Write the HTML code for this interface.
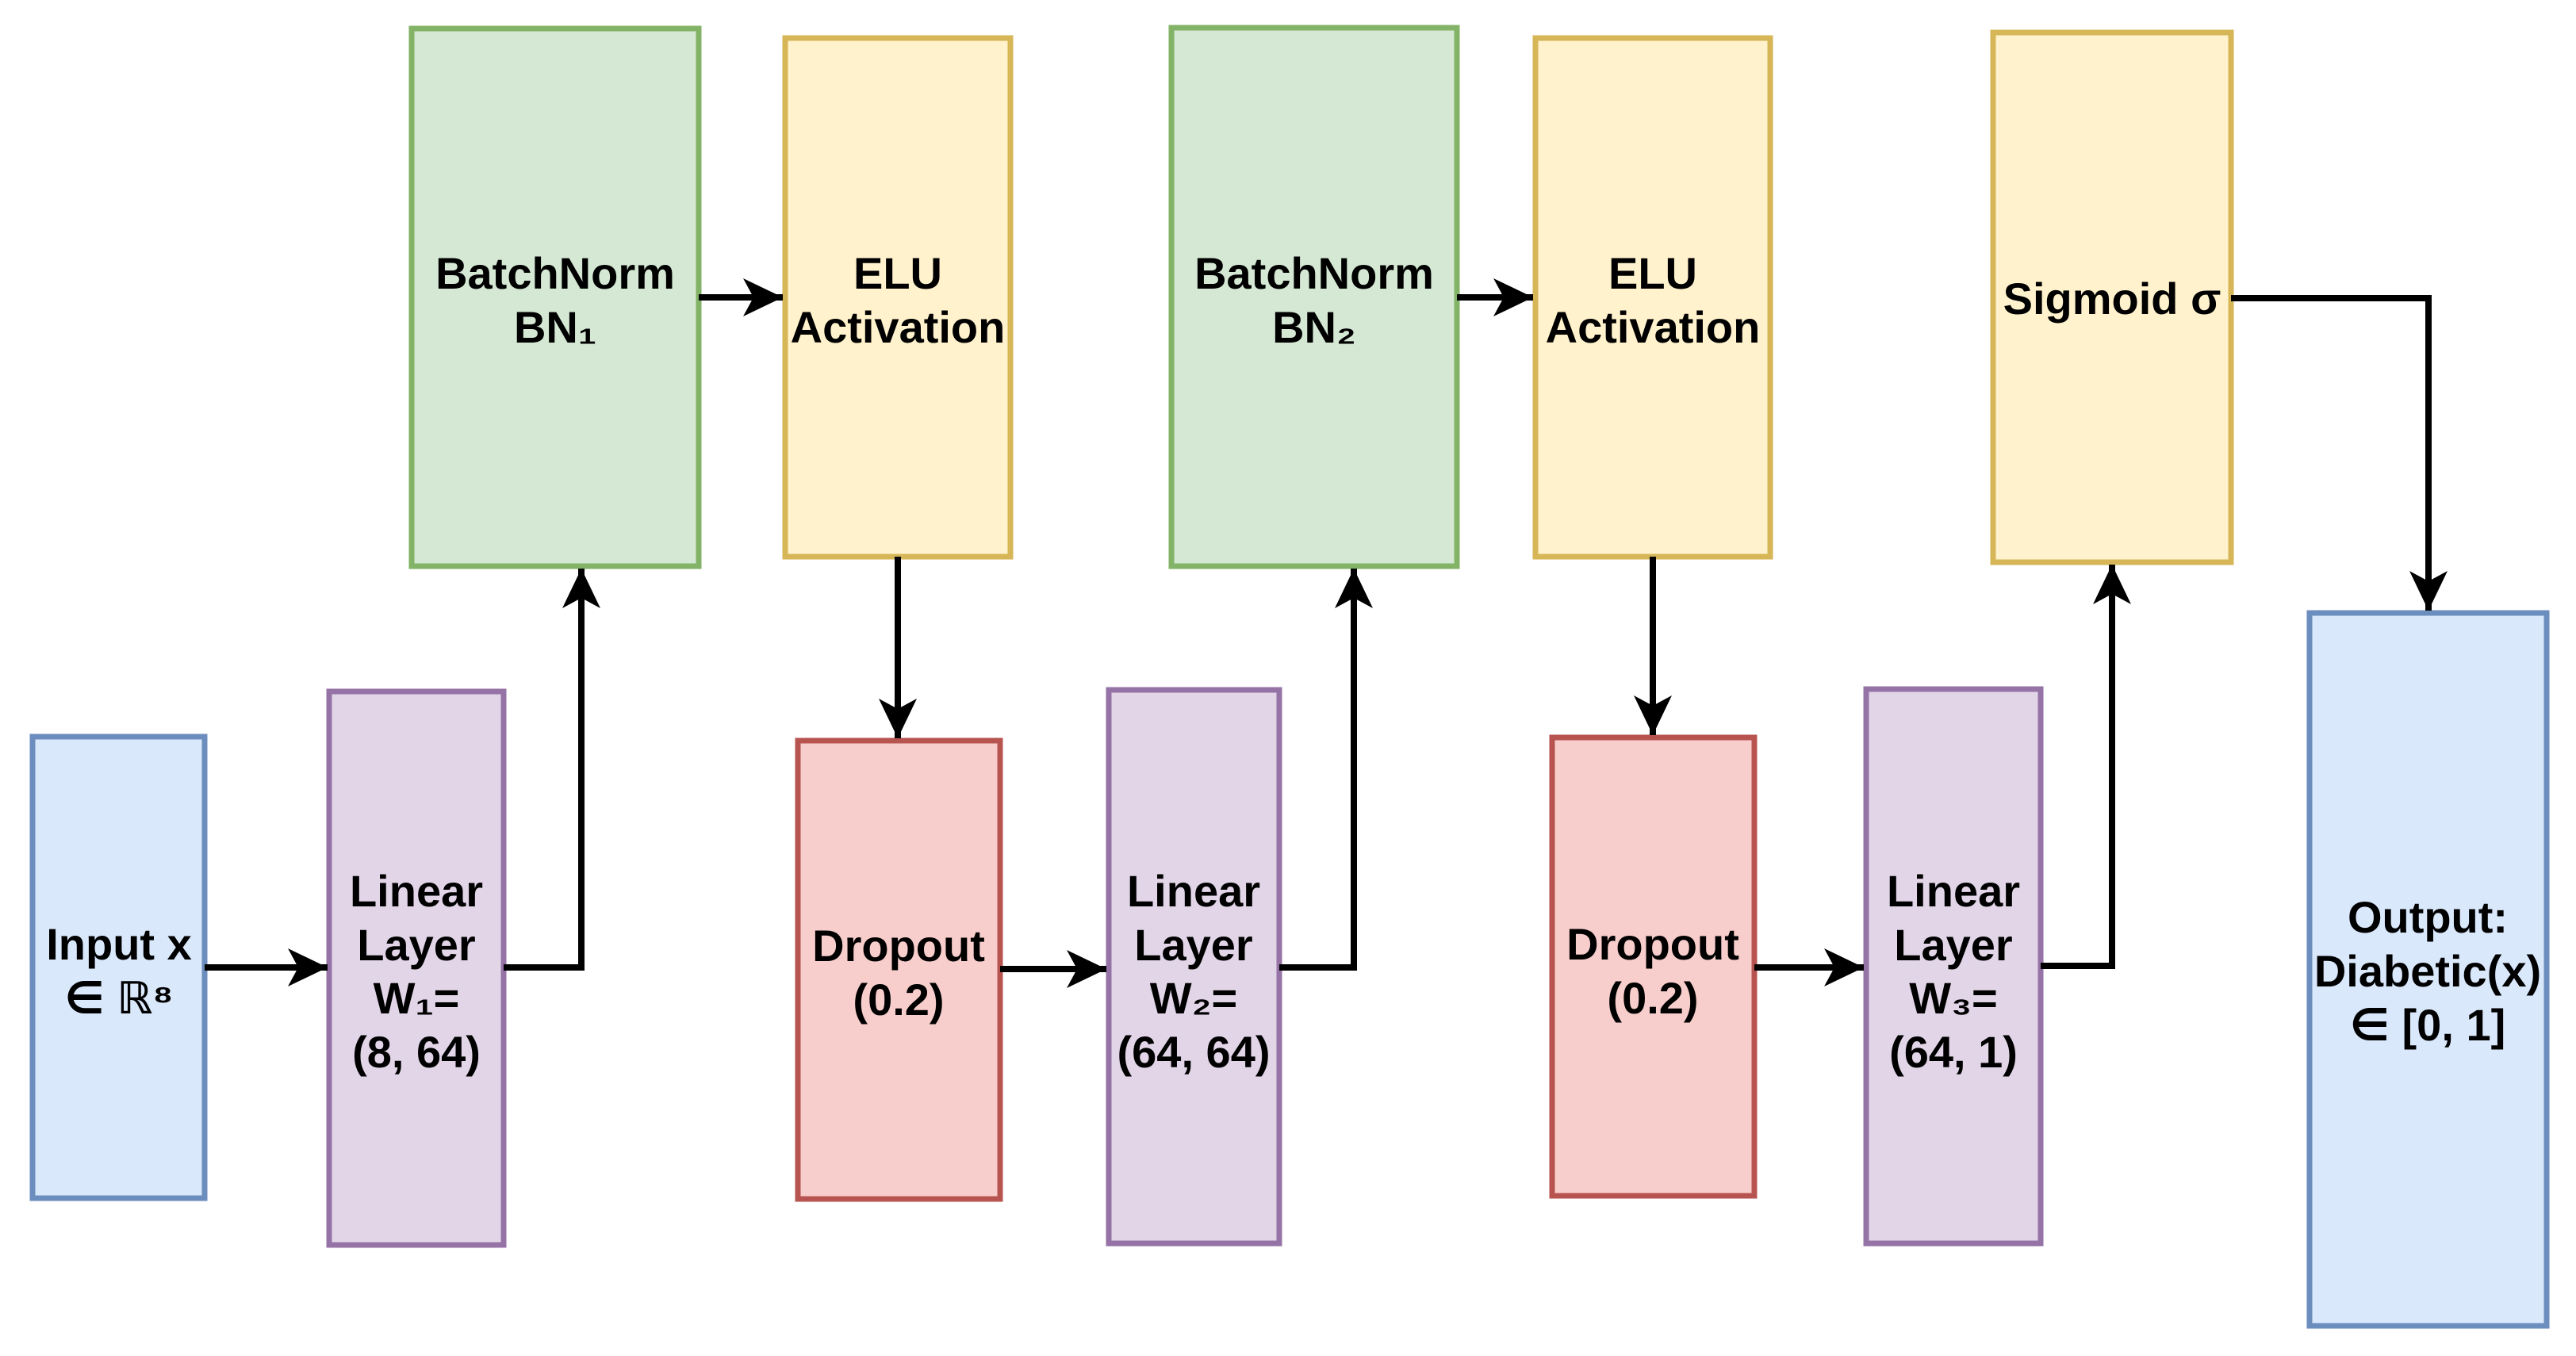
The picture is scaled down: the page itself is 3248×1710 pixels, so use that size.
<!DOCTYPE html>
<html><head><meta charset="utf-8"><style>
html,body{margin:0;padding:0;background:#fff;}
svg{display:block;}
text{font-family:"Liberation Sans","DejaVu Sans",sans-serif;font-weight:bold;font-size:56px;fill:#000;text-anchor:middle;}
</style></head><body>
<svg width="3248" height="1710" viewBox="0 0 3248 1710" xmlns="http://www.w3.org/2000/svg">
<defs>
<marker id="a" markerUnits="userSpaceOnUse" markerWidth="60" markerHeight="60" viewBox="-55 -30 60 60" refX="0" refY="0" orient="auto">
<path d="M0,0 L-50,-24 L-37,0 L-50,24 Z" fill="#000"/>
</marker>
</defs>
<g stroke-width="7">
<rect x="41" y="929" width="217" height="582" fill="#dae8fc" stroke="#6c8ebf"/>
<rect x="415" y="872" width="220" height="698" fill="#e1d5e7" stroke="#9673a6"/>
<rect x="519" y="36" width="362" height="678" fill="#d5e8d4" stroke="#82b366"/>
<rect x="990" y="48" width="284" height="654" fill="#fff2cc" stroke="#d6b656"/>
<rect x="1006" y="934" width="255" height="578" fill="#f8cecc" stroke="#b85450"/>
<rect x="1398" y="870" width="215" height="698" fill="#e1d5e7" stroke="#9673a6"/>
<rect x="1477" y="35" width="360" height="679" fill="#d5e8d4" stroke="#82b366"/>
<rect x="1936" y="48" width="296" height="654" fill="#fff2cc" stroke="#d6b656"/>
<rect x="1957" y="930" width="255" height="578" fill="#f8cecc" stroke="#b85450"/>
<rect x="2353" y="869" width="220" height="699" fill="#e1d5e7" stroke="#9673a6"/>
<rect x="2513" y="41" width="300" height="668" fill="#fff2cc" stroke="#d6b656"/>
<rect x="2912" y="773" width="299" height="899" fill="#dae8fc" stroke="#6c8ebf"/>
</g>
<g stroke="#000" stroke-width="8" fill="none" marker-end="url(#a)">
<path d="M258,1220 H413"/>
<path d="M635,1220 H733 V717"/>
<path d="M881,375 H987"/>
<path d="M1132,702 V931"/>
<path d="M1261,1222 H1395"/>
<path d="M1613,1220 H1707 V717"/>
<path d="M1837,375 H1933"/>
<path d="M2084,702 V927"/>
<path d="M2212,1220 H2350"/>
<path d="M2573,1218 H2663 V712"/>
<path d="M2813,376 H3062 V770"/>
</g>
<text x="150" y="1210">Input x</text>
<text x="150" y="1278">∈ ℝ⁸</text>
<text x="525" y="1143">Linear</text>
<text x="525" y="1211">Layer</text>
<text x="525" y="1278">W₁=</text>
<text x="525" y="1346">(8, 64)</text>
<text x="700" y="364">BatchNorm</text>
<text x="700" y="432">BN₁</text>
<text x="1132" y="364">ELU</text>
<text x="1132" y="432">Activation</text>
<text x="1133" y="1212">Dropout</text>
<text x="1133" y="1280">(0.2)</text>
<text x="1505" y="1143">Linear</text>
<text x="1505" y="1211">Layer</text>
<text x="1505" y="1278">W₂=</text>
<text x="1505" y="1346">(64, 64)</text>
<text x="1657" y="364">BatchNorm</text>
<text x="1657" y="432">BN₂</text>
<text x="2084" y="364">ELU</text>
<text x="2084" y="432">Activation</text>
<text x="2084" y="1210">Dropout</text>
<text x="2084" y="1278">(0.2)</text>
<text x="2463" y="1143">Linear</text>
<text x="2463" y="1211">Layer</text>
<text x="2463" y="1278">W₃=</text>
<text x="2463" y="1346">(64, 1)</text>
<text x="2663" y="396">Sigmoid σ</text>
<text x="3061" y="1176">Output:</text>
<text x="3061" y="1244">Diabetic(x)</text>
<text x="3061" y="1312">∈ [0, 1]</text>
</svg>
</body></html>
